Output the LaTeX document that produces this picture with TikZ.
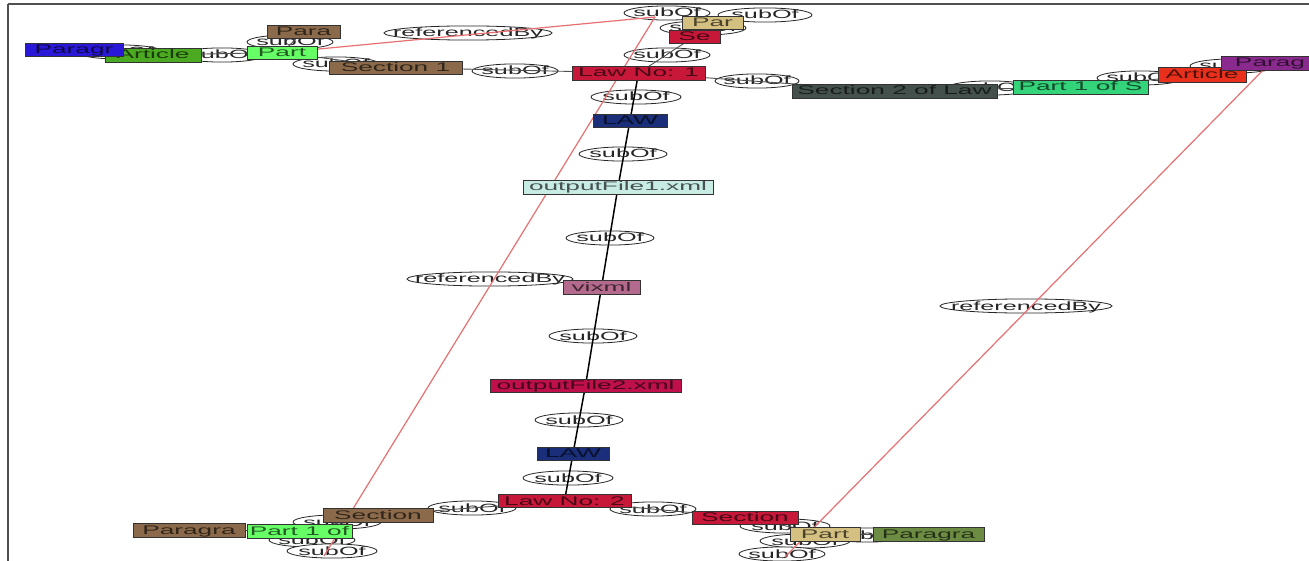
\documentclass[tikz,border=0pt]{standalone}
\usepackage{fontspec}
\setmainfont{Liberation Sans}
\newfontfamily\widefont[FakeStretch=2.1]{Liberation Sans}
\usetikzlibrary{shapes.geometric}
\pgfdeclarelayer{bg}
\pgfdeclarelayer{labels}
\pgfdeclarelayer{edges}
\pgfsetlayers{bg,labels,edges,main}

% node colours
\definecolor{cBlue}{HTML}{2A18D8}
\definecolor{cGreen}{HTML}{4CAA22}
\definecolor{cBrown}{HTML}{8A6A4A}
\definecolor{cLime}{HTML}{66FF66}
\definecolor{cTan}{HTML}{D4C080}
\definecolor{cRed}{HTML}{C8183A}
\definecolor{cSlate}{HTML}{44504C}
\definecolor{cMint}{HTML}{33D47A}
\definecolor{cOrange}{HTML}{E8301C}
\definecolor{cPurple}{HTML}{8A2A8E}
\definecolor{cNavy}{HTML}{1A2E7A}
\definecolor{cIce}{HTML}{C8ECE4}
\definecolor{cMauve}{HTML}{B46A8C}
\definecolor{cCrimson}{HTML}{C0104C}
\definecolor{cOlive}{HTML}{6C8C44}
\definecolor{cEdge}{HTML}{505050}
\definecolor{cRef}{HTML}{E87070}

% text that does not widen its node
\newcommand\zw[1]{\makebox[0pt]{#1}}

\begin{document}
\begin{tikzpicture}[x=1pt,y=-1pt,
  box/.style={draw=black!80, line width=0.8pt, fill=#1, text=#1!35!black,
    minimum height=14pt, inner sep=0pt, text height=9pt, text depth=1pt,
    font=\widefont\fontsize{12.5}{12.5}\selectfont},
  lbl/.style={ellipse, draw=black!85, line width=0.8pt, fill=white,
    minimum width=#1, minimum height=14pt, inner sep=0pt, text=black!85,
    text height=9pt, text depth=1pt,
    font=\widefont\fontsize{12}{12}\selectfont},
  sub/.style={draw=cEdge, line width=0.9pt},
  chain/.style={draw=black, line width=1.5pt},
  ref/.style={draw=cRef, line width=1.2pt},
  frameline/.style={draw=cEdge, line width=2pt}]

\useasboundingbox (0,0) rectangle (1309,561);
\begin{pgfonlayer}{bg}
\fill[white] (0,0) rectangle (1309,561);
\draw[frameline] (8,4) -- (1309,4);
\draw[frameline] (8,4) -- (8,561);
\end{pgfonlayer}

% ---- entity boxes ----
% top-left cluster
\node[box=cGreen, minimum width=96pt] (artTL) at (153,55) {\zw{Article}};
\node[box=cBlue, minimum width=98pt, minimum height=13pt] (parTL) at (74,49.5) {\zw{Paragr}};
\node[box=cBrown, minimum width=73pt, minimum height=13pt] (paraTL) at (303.5,31.5) {\zw{Para}};
\node[box=cLime, minimum width=70pt, minimum height=13pt] (partTL) at (282,52.5) {\zw{Part}};
\node[box=cBrown, minimum width=133pt, minimum height=13pt] (sec1) at (395.5,67.5) {\zw{Section 1}};
% top middle
\node[box=cRed, minimum width=51pt, minimum height=13pt] (se) at (694.5,36.5) {\zw{Se}};
\node[box=cTan, minimum width=61pt, minimum height=13pt] (par) at (712.5,22.5) {\zw{Par}};
\node[box=cRed, minimum width=133pt] (law1) at (638.5,73) {\zw{Law No: 1}};
% top-right cluster
\node[box=cSlate, minimum width=205pt] (sec2) at (894.5,91) {\zw{Section 2 of Law}};
\node[box=cMint, minimum width=135pt] (part1S) at (1080.5,87) {\zw{Part 1 of S}};
\node[box=cOrange, minimum width=88pt, minimum height=15pt] (artR) at (1202,74.5) {\zw{Article}};
\node[box=cPurple, minimum width=98pt] (paragR) at (1270,63) {\zw{Parag}};
% middle chain
\node[box=cNavy, minimum width=74pt, minimum height=13pt] (lawA) at (630,120.5) {\zw{LAW}};
\node[box=cIce, minimum width=190pt] (out1) at (618,187) {\zw{outputFile1.xml}};
\node[box=cMauve, minimum width=77pt] (vix) at (601.5,287) {\zw{vixml}};
\node[box=cCrimson, minimum width=191pt, minimum height=13pt] (out2) at (585.5,385.5) {\zw{outputFile2.xml}};
\node[box=cNavy, minimum width=72pt, minimum height=13pt] (lawB) at (573,453.5) {\zw{LAW}};
\node[box=cRed, minimum width=133pt, minimum height=13pt] (law2) at (564.5,501) {\zw{Law No: 2}};
% bottom-left cluster
\node[box=cBrown, minimum width=110pt] (secB) at (378,515) {\zw{Section}};
\node[box=cBrown, minimum width=112pt] (paragraL) at (189,530) {\zw{Paragra}};
\node[box=cLime, minimum width=105pt] (part1of) at (299.5,531) {\zw{Part 1 of}};
% bottom-right cluster
\node[box=cRed, minimum width=106pt, minimum height=13pt] (secR) at (745,517.5) {\zw{Section}};
\node[box=cTan, minimum width=70pt] (partT) at (825,534) {\zw{Part}};
\node[box=cOlive, minimum width=111pt] (paragraO) at (928.5,534) {\zw{Paragra}};

% ends of the long references
\coordinate (hidT) at (655,17);
\coordinate (hidL) at (324,556);
\coordinate (hidR) at (785,557);

% ---- relation labels ----
\begin{pgfonlayer}{labels}
\node[lbl=86pt] (e1) at (120,52) {\zw{subOf}};
\node[lbl=86pt] (e2) at (222,55) {\zw{subOf}};
\node[lbl=86pt] (e3) at (290,42) {\zw{subOf}};
\node[lbl=86pt] (e4) at (336,64) {\zw{subOf}};
\node[lbl=86pt] (e5) at (515,71) {\zw{subOf}};
\node[lbl=168pt] (r1) at (468,33) {\zw{referencedBy}};
\node[lbl=86pt] (e6) at (667,13) {\zw{subOf}};
\node[lbl=94pt] (e7) at (765,15) {\zw{subOf}};
\node[lbl=86pt] (e8) at (703,28) {\zw{subOf}};
\node[lbl=86pt] (e9) at (667,55) {\zw{subOf}};
\node[lbl=84pt] (e10) at (757,81) {\zw{subOf}};
\node[lbl=86pt] (e11) at (990,88) {\zw{subOf}};
\node[lbl=86pt] (e12) at (1140,78) {\zw{subOf}};
\node[lbl=86pt] (e13) at (1233,66) {\zw{subOf}};
\node[lbl=90pt] (c1) at (636,97) {\zw{subOf}};
\node[lbl=88pt] (c2) at (623,154) {\zw{subOf}};
\node[lbl=88pt] (c3) at (610,238) {\zw{subOf}};
\node[lbl=88pt] (c4) at (593,336) {\zw{subOf}};
\node[lbl=88pt] (c5) at (579,420) {\zw{subOf}};
\node[lbl=90pt] (c6) at (568,478) {\zw{subOf}};
\node[lbl=166pt] (r2) at (490,279) {\zw{referencedBy}};
\node[lbl=172pt] (r3) at (1026,306) {\zw{referencedBy}};
\node[lbl=88pt] (e14) at (472,508) {\zw{subOf}};
\node[lbl=88pt] (e15) at (337,522) {\zw{subOf}};
\node[lbl=86pt] (e16) at (312,540) {\zw{subOf}};
\node[lbl=90pt] (e17) at (332,551) {\zw{subOf}};
\node[lbl=86pt] (e18) at (653,509) {\zw{subOf}};
\node[lbl=90pt] (e19) at (785,526) {\zw{subOf}};
\node[lbl=90pt] (e20) at (805,541) {\zw{subOf}};
\node[lbl=86pt] (e21) at (782,554) {\zw{subOf}};
\node[lbl=86pt] (e22) at (867,535) {\zw{subOf}};
\end{pgfonlayer}

% ---- connectors ----
\begin{pgfonlayer}{edges}
% subOf relations
\draw[sub] (parTL.center) -- (artTL.center);
\draw[sub] (artTL.center) -- (partTL.center);
\draw[sub] (paraTL.center) -- (partTL.center);
\draw[sub] (partTL.center) -- (sec1.center);
\draw[sub] (sec1.center) -- (law1.center);
\draw[sub] (law1.center) -- (se.center);
\draw[sub] (se.center) -- (par.center);
\draw[sub] (law1.center) -- (sec2.center);
\draw[sub] (sec2.center) -- (part1S.center);
\draw[sub] (part1S.center) -- (artR.center);
\draw[sub] (artR.center) -- (paragR.center);
\draw[sub] (law2.center) -- (secB.center);
\draw[sub] (secB.center) -- (part1of.center);
\draw[sub] (part1of.center) -- (paragraL.center);
\draw[sub] (law2.center) -- (secR.center);
\draw[sub] (secR.center) -- (partT.center);
\draw[sub] (partT.center) -- (paragraO.center);
% document chain
\draw[chain] (law1.center) -- (lawA.center) -- (out1.center) -- (vix.center)
  -- (out2.center) -- (lawB.center) -- (law2.center);
% cross references
\draw[ref] (partTL.center) -- (hidT);
\draw[ref] (hidT) -- (hidL);
\draw[ref] (paragR.center) -- (hidR);
\end{pgfonlayer}
\end{tikzpicture}
\end{document}
